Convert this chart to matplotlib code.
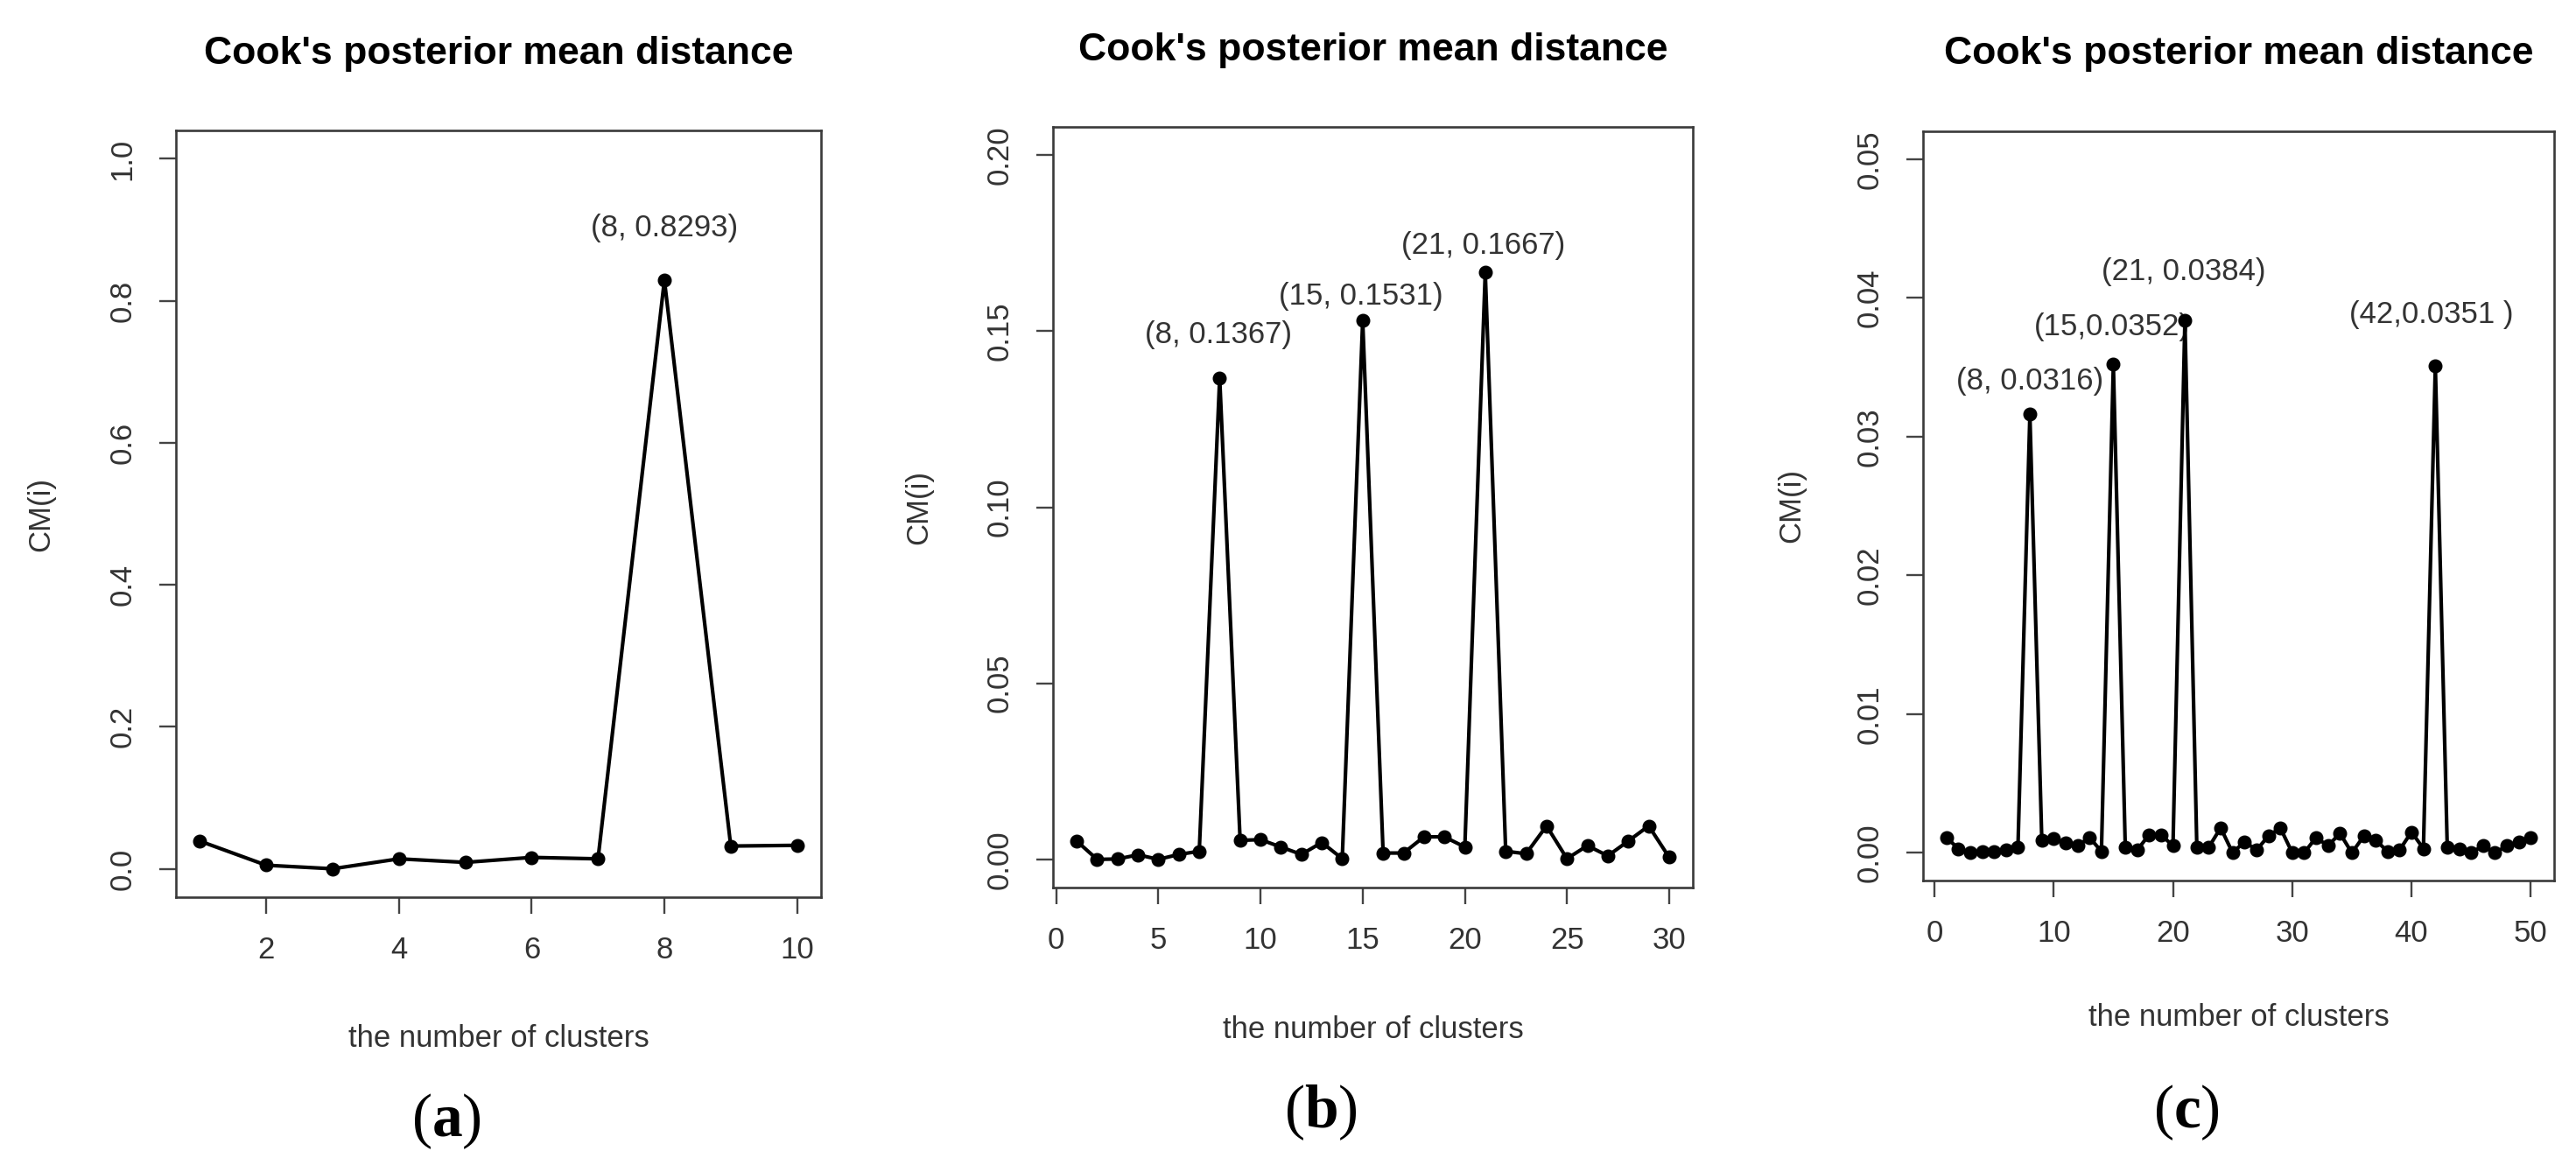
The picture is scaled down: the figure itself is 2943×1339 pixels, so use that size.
import numpy as np
import matplotlib.pyplot as plt

plt.rcParams['font.family'] = ['Liberation Sans', 'DejaVu Sans']
plt.rcParams['mathtext.fontset'] = 'custom'
plt.rcParams['mathtext.rm'] = 'Liberation Serif'
plt.rcParams['mathtext.bf'] = 'Liberation Serif:bold'

# ---- data ----
clusters_a = np.arange(1, 11)
cm_a = [0.039, 0.005, 0.0, 0.014, 0.009, 0.016, 0.014, 0.8293, 0.032, 0.033]
notes_a = [(8.0, 0.902, "(8, 0.8293)")]

clusters_b = np.arange(1, 31)
cm_b = [0.0052, 0.0, 0.0001, 0.0013, 0.0, 0.0014, 0.0023, 0.1367, 0.0054, 0.0056,
        0.0035, 0.0014, 0.0048, 0.0002, 0.1531, 0.0018, 0.0018, 0.0064, 0.0064, 0.0035,
        0.1667, 0.0023, 0.0016, 0.0095, 0.0002, 0.0039, 0.0010, 0.0052, 0.0095, 0.0006]
notes_b = [(7.95, 0.149, "(8, 0.1367)"),
           (14.9, 0.160, "(15, 0.1531)"),
           (20.9, 0.1743, "(21, 0.1667)")]

clusters_c = np.arange(1, 51)
cm_c = [0.0011, 0.0003, 0.0, 0.0001, 0.0001, 0.0002, 0.0004, 0.0316, 0.0009, 0.0010,
        0.0007, 0.0005, 0.0011, 0.0001, 0.0352, 0.0004, 0.0002, 0.0013, 0.0013, 0.0005,
        0.0384, 0.0004, 0.0004, 0.0018, 0.0, 0.0008, 0.0002, 0.0012, 0.0018, 0.0,
        0.0, 0.0011, 0.0005, 0.0014, 0.0, 0.0012, 0.0009, 0.0001, 0.0002, 0.0015,
        0.0003, 0.0351, 0.0004, 0.0003, 0.0, 0.0005, 0.0, 0.0005, 0.0008, 0.0011]
notes_c = [(8.0, 0.0340, "(8, 0.0316)"),
           (14.9, 0.0379, "(15,0.0352)"),
           (20.9, 0.0419, "(21, 0.0384)"),
           (41.7, 0.0388, "(42,0.0351 )")]

yrange_a = (0.0, 1.0)
yrange_b = (0.0, 0.2)
yrange_c = (0.0, 0.05)
xticks_a = [2, 4, 6, 8, 10]
xticks_b = [0, 5, 10, 15, 20, 25, 30]
xticks_c = [0, 10, 20, 30, 40, 50]
yticks_a = [0.0, 0.2, 0.4, 0.6, 0.8, 1.0]
yticks_b = [0.0, 0.05, 0.10, 0.15, 0.20]
yticks_c = [0.0, 0.01, 0.02, 0.03, 0.04, 0.05]

W, H = 2943, 1339
fig = plt.figure(figsize=(W / 100, H / 100), dpi=100)
fig.patch.set_facecolor('white')

TXT = '#333333'


def r_pad(lo, hi):
    # R extends the data range by 4% on each side
    d = 0.04 * (hi - lo)
    return lo - d, hi + d


def panel(box, x, y, yrange, xticks, yticks, ydec, notes, letter, title_y, xlab_y, letter_y):
    # box = (left, top, right, bottom) in pixels
    l, t, r, b = box
    ax = fig.add_axes([l / W, 1 - b / H, (r - l) / W, (b - t) / H])
    ax.plot(x, y, color='black', lw=3.0, marker='o', ms=10.5, zorder=3)
    ax.set_xlim(*r_pad(min(x), max(x)))
    ax.set_ylim(*r_pad(*yrange))
    ax.set_xticks(xticks)
    ax.set_xticklabels([str(v) for v in xticks])
    ax.set_yticks(yticks)
    ax.set_yticklabels([f"{v:.{ydec}f}" for v in yticks])
    for s in ax.spines.values():
        s.set_color('#3a3a3a')
        s.set_linewidth(1.9)
    ax.tick_params(direction='out', length=14, width=1.7, color='#444444',
                   labelsize=25, labelcolor=TXT, pad=18)
    ax.tick_params(axis='y', labelrotation=90)
    plt.setp(ax.get_yticklabels(), va='center')
    for nx, ny, s in notes:
        ax.text(nx, ny, s, ha='center', va='center', fontsize=25, color=TXT, zorder=2)

    cx = (l + r) / 2 / W
    fig.text(cx, 1 - title_y / H, "Cook's posterior mean distance", ha='center', va='center',
             fontsize=32, fontweight='bold', color='black')
    fig.text(cx, 1 - xlab_y / H, "the number of clusters", ha='center', va='center',
             fontsize=25, color=TXT)
    ax.text(-0.209, 0.5, "CM(i)", transform=ax.transAxes, rotation=90,
            ha='center', va='center', fontsize=25, color=TXT)
    fig.text(cx - 60 / W, 1 - letter_y / H, r"($\mathbf{" + letter + "}$)", ha='center', va='center',
             fontsize=50, family='Liberation Serif', color='black')
    return ax


panel((201, 149, 938, 1025), clusters_a, cm_a, yrange_a, xticks_a, yticks_a, 1, notes_a, 'a', 61, 1187, 1281)
panel((1203, 145, 1934, 1014), clusters_b, cm_b, yrange_b, xticks_b, yticks_b, 2, notes_b, 'b', 58, 1176, 1271)
panel((2197, 150, 2918, 1006), clusters_c, cm_c, yrange_c, xticks_c, yticks_c, 2, notes_c, 'c', 62, 1163, 1271)

fig.savefig('out.png', dpi=100, facecolor='white')
